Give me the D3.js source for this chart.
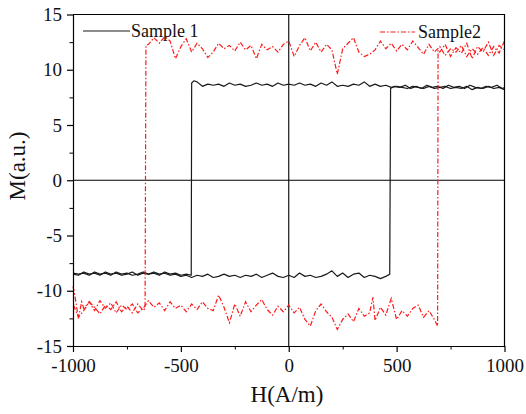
<!DOCTYPE html>
<html>
<head>
<meta charset="utf-8">
<script src="https://cdn.jsdelivr.net/npm/d3@7"></script>
<style>
  body { margin: 0; background: #fff; }
  svg text { font-family: "Liberation Serif", "Times New Roman", serif; fill: #111; }
</style>
</head>
<body>
<svg id="chart"></svg>
<script>
// Sample 1, field sweep from +1000 down to -1000  [H, M]
const sample1Down = [
  [1000,8.2],[975,8.4],[950,8.3],[925,8.5],[900,8.3],[875,8.4],[850,8.2],[825,8.5],[800,8.3],[775,8.4],
  [750,8.3],[725,8.5],[700,8.4],[675,8.3],[650,8.5],[625,8.3],[600,8.4],[575,8.5],[550,8.3],[525,8.4],
  [500,8.5],[475,8.4],[450,8.6],[425,8.5],[400,8.7],[375,8.5],[350,8.9],[325,8.6],[300,8.7],[275,8.5],
  [250,8.6],[225,8.5],[200,8.9],[175,8.6],[150,8.8],[125,8.5],[100,8.7],[75,8.6],[50,8.8],[25,8.6],
  [0,8.7],[-25,8.6],[-50,8.8],[-75,8.5],[-100,8.7],[-125,8.6],[-150,8.8],[-175,8.6],[-200,8.5],[-225,8.7],
  [-250,8.6],[-275,8.8],[-300,8.5],[-325,8.7],[-350,8.6],[-375,8.7],[-400,8.5],[-425,8.9],[-440,9.0],[-450,8.8],
  [-452,-8.6],[-475,-8.5],[-500,-8.6],[-525,-8.4],[-550,-8.5],[-575,-8.3],[-600,-8.6],[-625,-8.4],[-650,-8.5],
  [-675,-8.3],[-700,-8.5],[-725,-8.6],[-750,-8.4],[-775,-8.5],[-800,-8.3],[-825,-8.6],[-850,-8.4],[-875,-8.5],
  [-900,-8.3],[-925,-8.6],[-950,-8.4],[-975,-8.5],[-1000,-8.4]
];

// Sample 1, field sweep from -1000 back up to +1000
const sample1Up = [
  [-1000,-8.5],[-975,-8.6],[-950,-8.3],[-925,-8.5],[-900,-8.4],[-875,-8.6],[-850,-8.3],[-825,-8.5],[-800,-8.4],
  [-775,-8.6],[-750,-8.5],[-725,-8.3],[-700,-8.6],[-675,-8.4],[-650,-8.5],[-625,-8.3],[-600,-8.5],[-575,-8.4],
  [-550,-8.6],[-525,-8.5],[-500,-8.7],[-475,-8.6],[-450,-8.8],[-425,-8.6],[-400,-8.7],[-375,-8.5],[-350,-8.8],
  [-325,-8.7],[-300,-8.5],[-275,-8.7],[-250,-8.6],[-225,-8.8],[-200,-8.6],[-175,-8.7],[-150,-8.5],[-125,-8.8],
  [-100,-8.6],[-75,-8.4],[-50,-8.7],[-25,-8.8],[0,-8.6],[25,-8.8],[50,-8.4],[75,-8.7],[100,-8.6],[125,-8.8],
  [150,-8.7],[175,-8.5],[200,-8.2],[225,-8.7],[250,-8.4],[275,-8.8],[300,-8.5],[325,-8.4],[350,-8.8],[375,-8.6],
  [400,-8.7],[425,-8.9],[450,-8.7],[468,-8.5],[472,8.3],[490,8.5],[515,8.4],[540,8.6],[565,8.3],[590,8.5],
  [615,8.3],[640,8.6],[665,8.4],[690,8.5],[715,8.3],[740,8.6],[765,8.4],[790,8.5],[815,8.3],[840,8.6],
  [865,8.4],[890,8.3],[915,8.5],[940,8.4],[965,8.6],[990,8.3],[1000,8.4]
];

// Sample2, sweep down
const sample2Down = [
  [1000,12.6],[975,11.5],[950,12.1],[925,11.3],[900,12.0],[875,11.4],[850,11.9],[825,11.2],[800,12.2],[775,11.6],
  [750,11.9],[725,11.3],[700,12.1],[675,11.6],[650,12.3],[625,11.4],[600,12.0],[575,12.6],[550,11.8],[525,12.3],
  [500,11.7],[475,12.4],[450,11.9],[425,12.6],[400,11.8],[375,11.4],[350,11.2],[325,11.6],[300,12.9],[275,12.4],
  [250,11.9],[225,9.6],[200,11.8],[175,12.3],[150,11.6],[125,12.5],[100,11.7],[75,12.9],[50,12.2],[25,11.2],
  [0,12.6],[-25,12.3],[-50,11.6],[-75,12.1],[-100,11.8],[-125,12.3],[-150,11.0],[-175,12.2],[-200,11.8],[-225,12.5],
  [-250,11.7],[-275,12.2],[-300,11.9],[-325,12.4],[-350,11.6],[-375,11.1],[-400,11.9],[-425,12.4],[-450,11.6],
  [-475,12.8],[-500,12.1],[-525,11.0],[-550,12.6],[-575,13.0],[-600,12.4],[-625,12.9],[-650,12.3],[-662,12.2],
  [-666,-11.6],[-675,-11.8],[-700,-11.2],[-725,-12.0],[-750,-11.4],[-775,-11.9],[-800,-11.0],[-825,-11.7],
  [-850,-11.3],[-875,-12.1],[-900,-11.5],[-925,-11.0],[-950,-11.8],[-975,-12.4],[-1000,-11.2]
];

// Sample2, sweep up
const sample2Up = [
  [-1000,-9.6],[-990,-10.6],[-975,-12.5],[-960,-11.0],[-950,-11.6],[-925,-11.0],[-900,-11.8],[-875,-10.9],
  [-850,-11.6],[-825,-11.1],[-800,-12.0],[-775,-11.3],[-750,-11.7],[-725,-11.2],[-700,-12.0],[-675,-11.6],
  [-650,-10.9],[-625,-11.5],[-600,-11.1],[-575,-11.8],[-550,-11.0],[-525,-11.6],[-500,-11.3],[-475,-11.9],
  [-450,-11.2],[-425,-11.7],[-400,-11.0],[-375,-11.6],[-350,-11.8],[-325,-10.4],[-300,-11.5],[-275,-12.9],
  [-250,-11.2],[-225,-12.3],[-200,-11.0],[-175,-11.9],[-150,-11.3],[-125,-10.8],[-100,-11.7],[-75,-12.2],
  [-50,-11.4],[-25,-11.9],[0,-11.3],[25,-12.0],[50,-11.5],[75,-12.6],[100,-13.2],[125,-11.8],[150,-11.2],
  [175,-11.9],[200,-12.4],[225,-13.5],[250,-12.6],[275,-12.1],[300,-12.8],[325,-11.6],[350,-12.3],[375,-12.0],
  [390,-10.6],[400,-12.7],[425,-11.5],[450,-12.2],[475,-10.7],[500,-12.6],[525,-11.8],[550,-12.3],[575,-11.6],
  [600,-11.3],[625,-12.4],[650,-11.8],[675,-12.6],[690,-13.2],[692,11.8],[700,11.6],[725,12.3],[750,11.2],
  [775,12.0],[800,11.5],[825,12.4],[850,11.0],[875,12.1],[900,11.6],[925,12.5],[950,11.3],[975,12.2],[1000,11.8]
];

const xMajorTicks = [-1000, -500, 0, 500, 1000];
const xMinorTicks = [-750, -250, 250, 750];
const yMajorTicks = [-15, -10, -5, 0, 5, 10, 15];
const yMinorTicks = [-12.5, -7.5, -2.5, 2.5, 7.5, 12.5];

const legendNames = ["Sample 1", "Sample2"];

function drawChart() {
  const width = 526;
  const height = 414;
  const margin = { left: 73, right: 21.5, top: 14.5, bottom: 68 };

  const svg = d3.select("#chart").attr("width", width).attr("height", height);

  svg.append("rect").attr("width", width).attr("height", height).attr("fill", "#fff");

  const x = d3.scaleLinear().domain([-1000, 1000]).range([margin.left, width - margin.right]);
  const y = d3.scaleLinear().domain([-15, 15]).range([height - margin.bottom, margin.top]);

  const plot = svg.append("g");

  // zero lines
  plot.append("line")
    .attr("x1", x(-1000)).attr("x2", x(1000))
    .attr("y1", y(0)).attr("y2", y(0))
    .attr("stroke", "#000").attr("stroke-width", 1.1);
  plot.append("line")
    .attr("x1", x(0)).attr("x2", x(0))
    .attr("y1", y(-15)).attr("y2", y(15))
    .attr("stroke", "#000").attr("stroke-width", 1.1);

  const line = d3.line().x(d => x(d[0])).y(d => y(d[1]));

  // sample 1 (black solid)
  [sample1Down, sample1Up].forEach(s => {
    plot.append("path")
      .attr("d", line(s))
      .attr("fill", "none")
      .attr("stroke", "#1a1a1a")
      .attr("stroke-width", 1.2)
      .attr("stroke-linejoin", "round");
  });

  // sample 2 (red dash-dot)
  [sample2Down, sample2Up].forEach(s => {
    plot.append("path")
      .attr("d", line(s))
      .attr("fill", "none")
      .attr("stroke", "#ff1a1a")
      .attr("stroke-width", 1.2)
      .attr("stroke-dasharray", "5,2,1.5,2");
  });

  // axes
  const fmt = d => String(d);

  const xAxis = svg.append("g")
    .attr("transform", `translate(0,${y(-15)})`)
    .call(d3.axisBottom(x).tickValues(xMajorTicks).tickFormat(fmt).tickSize(6).tickPadding(6.5).tickSizeOuter(0));
  svg.append("g")
    .attr("transform", `translate(0,${y(-15)})`)
    .call(d3.axisBottom(x).tickValues(xMinorTicks).tickFormat("").tickSize(3.5).tickSizeOuter(0))
    .select(".domain").remove();

  const yAxis = svg.append("g")
    .attr("transform", `translate(${x(-1000)},0)`)
    .call(d3.axisLeft(y).tickValues(yMajorTicks).tickFormat(fmt).tickSize(6).tickPadding(5).tickSizeOuter(0));
  svg.append("g")
    .attr("transform", `translate(${x(-1000)},0)`)
    .call(d3.axisLeft(y).tickValues(yMinorTicks).tickFormat("").tickSize(3.5).tickSizeOuter(0))
    .select(".domain").remove();

  [xAxis, yAxis].forEach(a => {
    a.selectAll("text").attr("font-size", "19px").attr("fill", "#111")
      .attr("font-family", "'Liberation Serif', 'Times New Roman', serif");
    a.selectAll("line, path").attr("stroke", "#000").attr("stroke-width", 1.2);
  });

  // top and right frame
  svg.append("path")
    .attr("d", `M${x(-1000)},${y(15)}H${x(1000)}V${y(-15)}`)
    .attr("fill", "none")
    .attr("stroke", "#000")
    .attr("stroke-width", 1.2);

  // axis titles
  svg.append("text")
    .attr("x", 287).attr("y", 402)
    .attr("text-anchor", "middle")
    .attr("font-size", "23px")
    .text("H(A/m)");

  svg.append("text")
    .attr("transform", "translate(25,166) rotate(-90)")
    .attr("text-anchor", "middle")
    .attr("font-size", "23px")
    .text("M(a.u.)");

  // legend
  svg.append("line")
    .attr("x1", 83).attr("x2", 130).attr("y1", 31).attr("y2", 31)
    .attr("stroke", "#1a1a1a").attr("stroke-width", 1.2);
  svg.append("text")
    .attr("x", 131).attr("y", 37)
    .attr("font-size", "18px")
    .text(legendNames[0]);

  svg.append("line")
    .attr("x1", 380).attr("x2", 415).attr("y1", 32).attr("y2", 32)
    .attr("stroke", "#ff1a1a").attr("stroke-width", 1.2)
    .attr("stroke-dasharray", "5,2,1.5,2");
  svg.append("text")
    .attr("x", 418).attr("y", 38)
    .attr("font-size", "18px")
    .text(legendNames[1]);
}

drawChart();
</script>
</body>
</html>
